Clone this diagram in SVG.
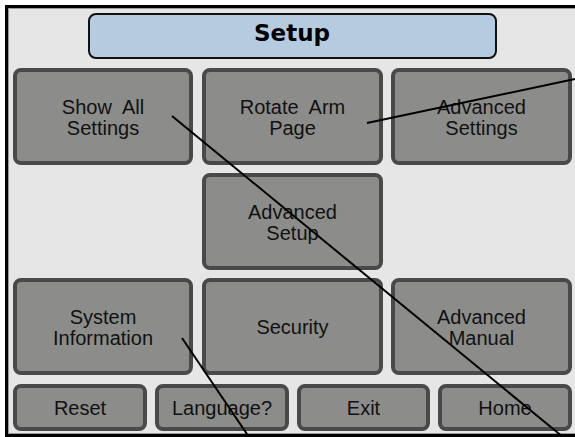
<svg xmlns="http://www.w3.org/2000/svg" width="575" height="437" viewBox="0 0 575 437">
<style>
.btn rect{fill:#8c8d8a;stroke:#494949;stroke-width:4}
.btn text{font-family:"Liberation Sans",Arial,sans-serif;font-size:20px;fill:#111;text-anchor:middle;white-space:pre}
.title rect{fill:#b5cce0;stroke:#111;stroke-width:2}
.title text{font-family:"DejaVu Sans",sans-serif;font-weight:bold;font-size:23px;fill:#000;text-anchor:middle}
.conn line{stroke:#000;stroke-width:2;fill:none}
</style>
<rect x="0" y="0" width="575" height="437" fill="#ffffff"/>
<rect x="6.5" y="6.5" width="700" height="429" fill="#e6e6e6" stroke="#000" stroke-width="3"/>
<rect x="8.5" y="8.5" width="700" height="425" fill="none" stroke="#9a9a9a" stroke-width="1"/>
<g id="title" class="title"><rect x="89" y="14" width="407" height="44" rx="7"/><text x="292" y="41">Setup</text></g>
<g id="show-all-settings" class="btn"><rect x="15" y="70" width="176" height="93" rx="6"/><text x="103" y="113.5" xml:space="preserve">Show  All</text><text x="103" y="134.5">Settings</text></g>
<g id="rotate-arm-page" class="btn"><rect x="204" y="70" width="177" height="93" rx="6"/><text x="292.5" y="113.5" xml:space="preserve">Rotate  Arm</text><text x="292.5" y="134.5">Page</text></g>
<g id="advanced-settings" class="btn"><rect x="393" y="70" width="177" height="93" rx="6"/><text x="481.5" y="113.5">Advanced</text><text x="481.5" y="134.5">Settings</text></g>
<g id="advanced-setup" class="btn"><rect x="204" y="175" width="177" height="93" rx="6"/><text x="292.5" y="218.5">Advanced</text><text x="292.5" y="239.5">Setup</text></g>
<g id="system-information" class="btn"><rect x="15" y="280" width="176" height="93" rx="6"/><text x="103" y="323.5">System</text><text x="103" y="344.5">Information</text></g>
<g id="security" class="btn"><rect x="204" y="280" width="177" height="93" rx="6"/><text x="292.5" y="334">Security</text></g>
<g id="advanced-manual" class="btn"><rect x="393" y="280" width="177" height="93" rx="6"/><text x="481.5" y="323.5">Advanced</text><text x="481.5" y="344.5">Manual</text></g>
<g id="reset" class="btn"><rect x="15" y="386" width="130" height="43" rx="6"/><text x="80" y="415">Reset</text></g>
<g id="language" class="btn"><rect x="157" y="386" width="130" height="43" rx="6"/><text x="222" y="415">Language?</text></g>
<g id="exit" class="btn"><rect x="299" y="386" width="129" height="43" rx="6"/><text x="363.5" y="415">Exit</text></g>
<g id="home" class="btn"><rect x="440" y="386" width="130" height="43" rx="6"/><text x="505" y="415">Home</text></g>
<g id="connectors" class="conn">
<line x1="172" y1="116" x2="563" y2="437"/>
<line x1="367" y1="123" x2="575" y2="79"/>
<line x1="182" y1="338" x2="249" y2="437"/>
</g>
</svg>
